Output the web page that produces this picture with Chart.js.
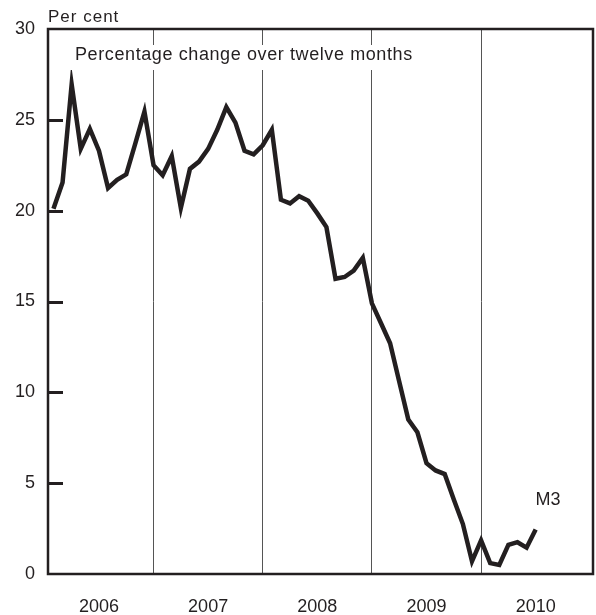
<!DOCTYPE html>
<html>
<head>
<meta charset="utf-8">
<script src="https://cdn.jsdelivr.net/npm/chart.js@4/dist/chart.umd.min.js"></script>
<style>
  body { margin: 0; background: #fff; }
  canvas { display: block; }
</style>
</head>
<body>
<canvas id="myChart" width="596" height="615"></canvas>
<script>
// Monthly M3, percentage change over twelve months (month 1 = Jan 2006)
const m3Values = [
    20.1, 21.55, 26.95, 23.4, 24.5, 23.3, 21.25, 21.7, 22.0, 23.7, 25.45, 22.5,
    21.95, 23.0, 20.15, 22.3, 22.7, 23.4, 24.45, 25.7, 24.85, 23.3, 23.1, 23.6,
    24.45, 20.6, 20.4, 20.8, 20.55, 19.85, 19.1, 16.25, 16.35, 16.7, 17.4, 14.9,
    13.8, 12.7, 10.6, 8.5, 7.8, 6.1, 5.7, 5.5, 4.1, 2.75, 0.7, 1.85,
    0.6, 0.5, 1.6, 1.75, 1.45, 2.45
];
const yearLabels = ['2006', '2007', '2008', '2009', '2010'];
const yTicks = [0, 5, 10, 15, 20, 25, 30];
const yearBreaks = [12, 24, 36, 48];

const ink = '#231f20';
const font = '"Liberation Sans", Arial, sans-serif';

document.addEventListener('DOMContentLoaded', function () {
    createChart();
});

// frame, inner tick marks and the text annotations
const decorations = {
    id: 'decorations',
    afterDatasetsDraw(chart) {
        const ctx = chart.ctx;
        const a = chart.chartArea;
        const y = chart.scales.y;
        ctx.save();

        // short tick marks inside the plot
        ctx.strokeStyle = ink;
        ctx.lineWidth = 3;
        yTicks.slice(1, -1).forEach(v => {
            const py = Math.round(y.getPixelForValue(v)) + 0.5;
            ctx.beginPath();
            ctx.moveTo(a.left, py);
            ctx.lineTo(a.left + 15, py);
            ctx.stroke();
        });

        // chart frame
        ctx.lineWidth = 2.5;
        ctx.strokeRect(a.left, a.top, a.right - a.left, a.bottom - a.top);

        // subtitle with white background
        ctx.font = '18px ' + font;
        ctx.letterSpacing = '0.6px';
        ctx.textBaseline = 'middle';
        ctx.textAlign = 'left';
        const sub = 'Percentage change over twelve months';
        const w = ctx.measureText(sub).width;
        ctx.fillStyle = '#fff';
        ctx.fillRect(70, 45, w + 10, 25);
        ctx.fillStyle = ink;
        ctx.fillText(sub, 75, 55);

        // unit label
        ctx.font = '17px ' + font;
        ctx.letterSpacing = '1px';
        ctx.fillText('Per cent', 48, 17.5);

        // series label
        ctx.font = '18px ' + font;
        ctx.letterSpacing = '0px';
        ctx.textAlign = 'center';
        ctx.fillText('M3', 548, 500);

        ctx.restore();
    }
};

function createChart() {
    const ctx = document.getElementById('myChart').getContext('2d');

    const chart = new Chart(ctx, {
        type: 'line',
        data: {
            datasets: [{
                label: 'M3',
                data: m3Values.map((v, i) => ({ x: i + 1, y: v })),
                borderColor: ink,
                borderWidth: 4.5,
                borderJoinStyle: 'miter',
                pointRadius: 0,
                tension: 0,
                fill: false,
            }],
        },
        options: {
            responsive: false,
            animation: false,
            layout: { padding: { top: 29, right: 3, left: 0, bottom: 0 } },
            plugins: {
                legend: { display: false },
                title: { display: false },
                tooltip: { enabled: false },
            },
            scales: {
                x: {
                    type: 'linear',
                    min: 0.4,
                    max: 60.3,
                    afterBuildTicks: scale => {
                        const t = [];
                        for (let v = 6; v <= 54; v += 6) t.push({ value: v });
                        scale.ticks = t;
                    },
                    afterFit: scale => { scale.height = 41; },
                    border: { display: false },
                    grid: {
                        drawTicks: false,
                        color: c => (c.tick && yearBreaks.includes(c.tick.value)) ? '#555' : 'rgba(0,0,0,0)',
                        lineWidth: 1,
                    },
                    ticks: {
                        autoSkip: false,
                        maxRotation: 0,
                        padding: 22,
                        color: ink,
                        font: { family: font, size: 18 },
                        callback: v => (v % 12 === 6) ? yearLabels[(v - 6) / 12] : '',
                    },
                },
                y: {
                    min: 0,
                    max: 30,
                    afterBuildTicks: scale => { scale.ticks = yTicks.map(v => ({ value: v })); },
                    afterFit: scale => { scale.width = 48; },
                    border: { display: false },
                    grid: { display: false, drawTicks: false },
                    ticks: {
                        padding: 13,
                        color: ink,
                        font: { family: font, size: 18 },
                    },
                },
            },
        },
        plugins: [decorations],
    });
}
</script>
</body>
</html>
